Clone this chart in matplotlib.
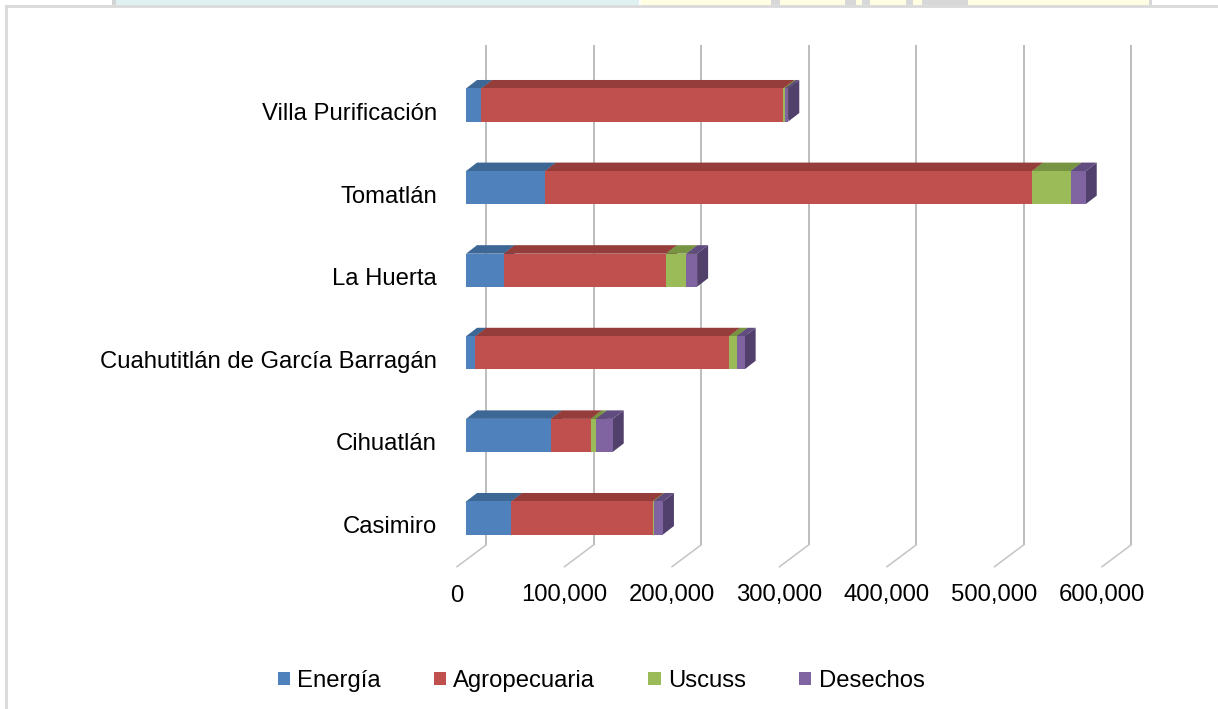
import numpy as np
import matplotlib
matplotlib.use("Agg")
import matplotlib.pyplot as plt
from matplotlib.patches import Polygon, Rectangle, Patch
from matplotlib.lines import Line2D

plt.rcParams['font.family'] = ['Liberation Sans', 'DejaVu Sans']

# data (bottom to top, as drawn)
municipios = ["Casimiro", "Cihuatlán", "Cuahutitlán de García Barragán",
              "La Huerta", "Tomatlán", "Villa Purificación"]
energia = [42000, 79000, 8700, 35000, 73500, 14300]
agropecuaria = [131500, 37000, 236000, 151000, 453000, 281000]
uscuss = [1000, 5000, 7000, 19000, 36000, 1500]
desechos = [8700, 15500, 7500, 10000, 14000, 3000]
series_names = ["Energía", "Agropecuaria", "Uscuss", "Desechos"]
x_ticks = [0, 100000, 200000, 300000, 400000, 500000, 600000]

front_cols = ['#4F81BD', '#C0504D', '#9BBB59', '#8064A2']
top_cols = ['#3D6896', '#943D3B', '#779443', '#614C80']
side_cols = ['#34577F', '#7E3331', '#637B37', '#513F6C']

FS = 17.2
W, H = 1218, 709
fig = plt.figure(figsize=(W / 100, H / 100), dpi=100)

# axes mapped so that the bar front faces sit on the data scale
ax_left, ax_w = 466, 645
ax_bottom_px, cat_px = 559.3, 82.6
ax = fig.add_axes([ax_left / W, (H - ax_bottom_px) / H, ax_w / W, 6 * cat_px / H])
ax.set_xlim(0, 600000)
ax.set_ylim(-0.5, 5.5)
ax.axis('off')


def dxu(px):
    return px / ax_w * 600000


def dyu(px):
    return px / cat_px


def ypix(p):
    # pixel row (from top) -> data y
    return -0.5 + (ax_bottom_px - p) / cat_px


# back wall gridlines + floor edge
for v in x_ticks:
    bx = v + dxu(20)
    ax.plot([bx, bx], [ypix(545), ypix(45)], color='#bdbdbd', lw=1.4,
            clip_on=False, zorder=1, solid_capstyle='butt')
    ax.plot([bx, v - dxu(9)], [ypix(545), ypix(566.7)], color='#c4c4c4',
            lw=1.1, clip_on=False, zorder=1)
    ax.text(v - dxu(9), ypix(601.5), f"{v:,}", ha='center', va='baseline',
            fontsize=FS, color='black')

# 3D stacked bars
DX, DY = dxu(11), dyu(8.5)
half = 0.2
data = np.array([energia, agropecuaria, uscuss, desechos], dtype=float)
for i, name in enumerate(municipios):
    left = 0.0
    y0, y1 = i - half, i + half
    for k in range(4):
        w = data[k, i]
        right = left + w
        front = Polygon([(left, y0), (right, y0), (right, y1), (left, y1)],
                        closed=True, facecolor=front_cols[k], edgecolor='none',
                        zorder=3 + k)
        top = Polygon([(left, y1), (right, y1), (right + DX, y1 + DY),
                       (left + DX, y1 + DY)], closed=True,
                      facecolor=top_cols[k], edgecolor='none', zorder=3 + k)
        side = Polygon([(right, y0), (right + DX, y0 + DY),
                        (right + DX, y1 + DY), (right, y1)], closed=True,
                       facecolor=side_cols[k], edgecolor='none', zorder=3 + k)
        for p in (side, top, front):
            p.set_clip_on(False)
            ax.add_patch(p)
        left = right
    ax.text(-dxu(29), i - dyu(15), name, ha='right', va='baseline',
            fontsize=FS, color='black')

# legend
handles = [Patch(facecolor=c, edgecolor='none') for c in front_cols]
fig.legend(handles, series_names, loc='center', bbox_to_anchor=(601 / W, 1 - 681 / H),
           ncol=4, frameon=False, fontsize=FS, handlelength=0.52,
           handleheight=0.52, handletextpad=0.3, columnspacing=2.22)

# chart frame
fig.add_artist(Line2D([6 / W, 6 / W], [0, 1 - 6 / H], color='#d9d9d9', lw=2,
                      transform=fig.transFigure))
fig.add_artist(Line2D([6 / W, 1], [1 - 6 / H, 1 - 6 / H], color='#d9d9d9', lw=2,
                      transform=fig.transFigure))

# strip of page background above the frame
def strip(x0, x1, color):
    fig.add_artist(Rectangle((x0 / W, 1 - 5 / H), (x1 - x0) / W, 5 / H,
                             transform=fig.transFigure, facecolor=color,
                             edgecolor='none'))

strip(112, 116, '#d4d4d4')
strip(116, 639, '#dff1f0')
strip(641, 1149, '#fffee3')
for a, b in [(771, 780), (845, 856), (862, 870), (906, 913), (922, 968), (1149, 1152)]:
    strip(a, b, '#d8d8d8')

fig.savefig("out.png", dpi=100)
plt.close(fig)
